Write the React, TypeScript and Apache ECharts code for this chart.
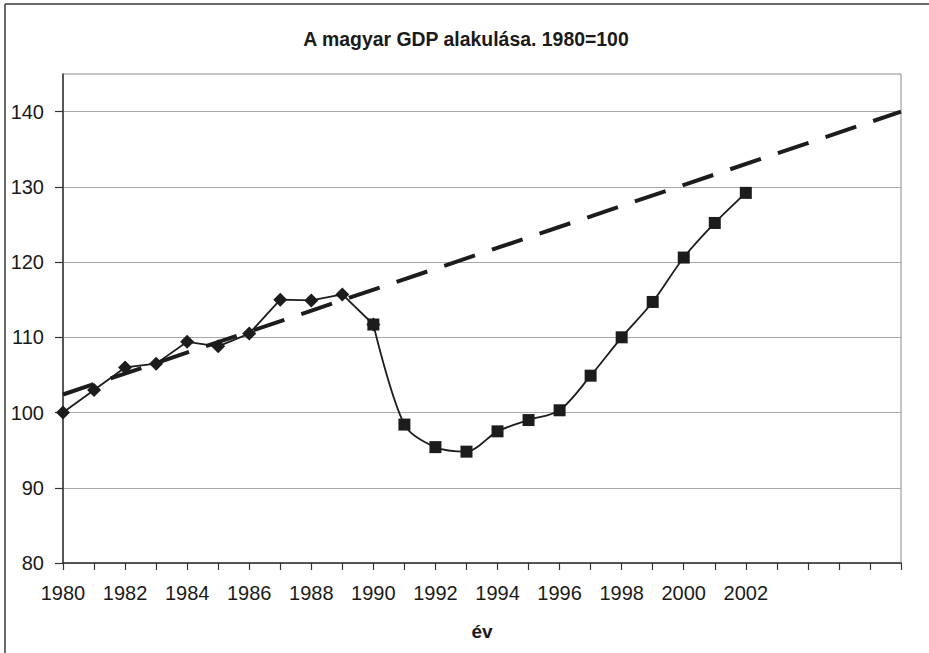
import React, { useEffect, useRef } from "react";
import * as echarts from "echarts";

const years: string[] = [];
for (let y = 1980; y <= 2007; y++) years.push(String(y));

const diamondYears = ["1980", "1981", "1982", "1983", "1984", "1985", "1986", "1987", "1988", "1989", "1990"];
const diamondValues = [100, 103, 106, 106.5, 109.4, 108.8, 110.5, 115, 114.9, 115.7, 111.7];

const squareYears = ["1990", "1991", "1992", "1993", "1994", "1995", "1996", "1997", "1998", "1999", "2000", "2001", "2002"];
const squareValues = [111.7, 98.4, 95.4, 94.8, 97.5, 99, 100.3, 104.9, 110, 114.7, 120.6, 125.2, 129.2];

const trendYears = ["1980", "2007"];
const trendValues = [102.4, 140];

const yTicks = [80, 90, 100, 110, 120, 130, 140];
const lastLabelYear = 2002;
const titleText = "A magyar GDP alakulása. 1980=100";

const FONT = "'Liberation Sans', Arial, sans-serif";

export default function App() {
  const ref = useRef<HTMLDivElement>(null);
  useEffect(() => {
    if (!ref.current) return;
    const chart = echarts.init(ref.current, null, { renderer: "svg" });
    const ink = "#1c1c1c";
    chart.setOption({
      animation: false,
      backgroundColor: "#ffffff",
      graphic: [
        { type: "line", shape: { x1: 5, y1: 4, x2: 940, y2: 4 }, style: { stroke: "#3a3a3a", lineWidth: 1.5 } },
        { type: "line", shape: { x1: 5, y1: 4, x2: 5, y2: 660 }, style: { stroke: "#3a3a3a", lineWidth: 1.5 } },
        {
          type: "text",
          x: 466,
          y: 39,
          scaleX: 0.925,
          style: {
            text: titleText,
            fontFamily: FONT,
            fontSize: 21,
            fontWeight: "bold",
            fill: "#1a1a1a",
            align: "center",
            verticalAlign: "middle",
          },
        },
      ],
      grid: {
        left: 63,
        right: 28,
        top: 74,
        bottom: 90,
        show: true,
        borderColor: "#8a8a8a",
        borderWidth: 1,
        backgroundColor: "transparent",
      },
      xAxis: {
        type: "category",
        data: years,
        boundaryGap: false,
        name: "év",
        nameLocation: "middle",
        nameGap: 59,
        nameTextStyle: { fontFamily: FONT, fontSize: 19, fontWeight: "bold", color: "#1a1a1a" },
        axisLine: { lineStyle: { color: "#333", width: 1.5 } },
        axisTick: { show: true, interval: 0, length: 7, lineStyle: { color: "#333", width: 1.2 } },
        axisLabel: {
          interval: 0,
          margin: 20,
          fontFamily: FONT,
          fontSize: 20,
          color: "#1a1a1a",
          formatter: (v: string) => {
            const n = Number(v);
            return n % 2 === 0 && n <= lastLabelYear ? v : "";
          },
        },
        splitLine: { show: false },
      },
      yAxis: {
        type: "value",
        min: 80,
        max: 145,
        interval: 10,
        axisLine: { show: true, lineStyle: { color: "#333", width: 1.5 } },
        axisTick: { show: true, length: 8, customValues: yTicks, lineStyle: { color: "#333", width: 1.2 } },
        axisLabel: {
          margin: 19,
          fontFamily: FONT,
          fontSize: 20,
          color: "#1a1a1a",
          customValues: yTicks,
        },
        splitLine: { show: true, lineStyle: { color: "#a8a8a8", width: 1 } },
      },
      series: [
        {
          type: "line",
          name: "trend",
          data: trendYears.map((y, i) => [y, trendValues[i]]),
          symbol: "none",
          lineStyle: { color: ink, width: 4, type: [32.4, 17.9] },
          z: 2,
        },
        {
          type: "line",
          name: "1980-1990",
          data: diamondYears.map((y, i) => [y, diamondValues[i]]),
          symbol: "diamond",
          symbolSize: 14,
          itemStyle: { color: ink },
          lineStyle: { color: ink, width: 1.8 },
          z: 3,
        },
        {
          type: "line",
          name: "1990-2002",
          data: squareYears.map((y, i) => [y, squareValues[i]]),
          symbol: "rect",
          symbolSize: 12,
          smooth: 0.3,
          itemStyle: { color: ink },
          lineStyle: { color: ink, width: 1.8 },
          z: 3,
        },
      ],
    });
    return () => chart.dispose();
  }, []);
  return (
    <div
      ref={ref}
      style={{ position: "fixed", left: 0, top: 0, width: 929, height: 653 }}
    />
  );
}
